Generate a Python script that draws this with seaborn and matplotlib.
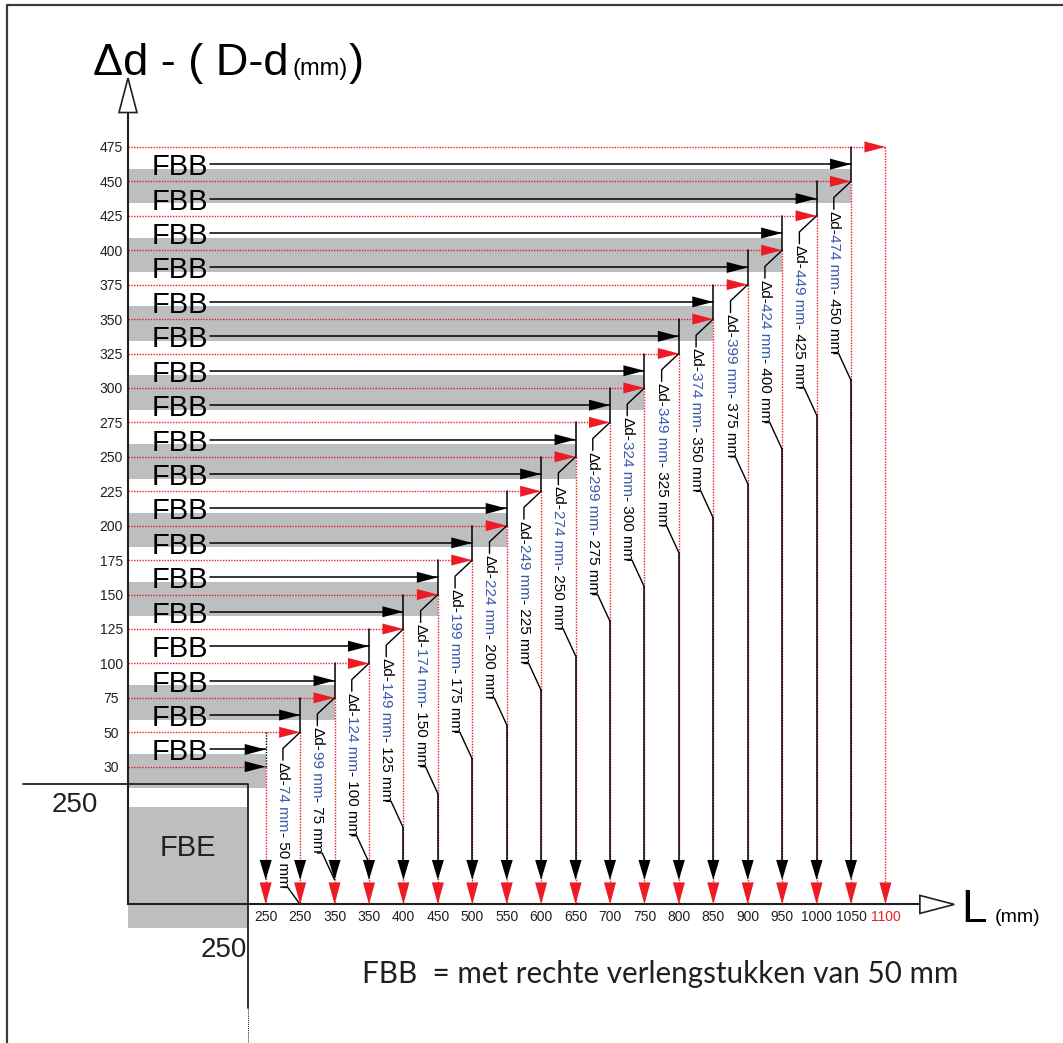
import numpy as np
import pandas as pd
import matplotlib
matplotlib.use("Agg")
import matplotlib.pyplot as plt
from matplotlib.patches import Polygon, Rectangle
import seaborn as sns

# ---------------- data ----------------
y_values = [30, 50, 75, 100, 125, 150, 175, 200, 225, 250, 275, 300, 325, 350,
            375, 400, 425, 450, 475]
x_values = [250, 250, 350, 350, 400, 450, 500, 550, 600, 650, 700, 750, 800,
            850, 900, 950, 1000, 1050, 1100]
band_levels = [30, 75, 150, 200, 250, 300, 350, 400, 450]
fbb_levels = [30, 50, 75, 100, 125, 150, 175, 200, 225, 250, 275, 300, 325,
              350, 375, 400, 425, 450]
dd_blue = [74, 99, 124, 149, 174, 199, 224, 249, 274, 299, 324, 349, 374, 399,
           424, 449, 474]
dd_black = [50, 75, 100, 125, 150, 175, 200, 225, 250, 275, 300, 325, 350, 375,
            400, 425, 450]
fbe_size = [250, 250]
title_main = "\u0394d - ( D-d"
x_unit = "(mm)"
note = "FBB  = met rechte verlengstukken van 50 mm"

# ---------------- style ----------------
RED = '#ed1c24'
BLUE = '#3d5aa8'
INK = '#231f20'
GRAY = '#bcbec0'
U = 34.43          # pixels per grid step
AX0 = -4           # axis position in grid units
DOT = (0, (1, 1))

sns.set_theme(style="white")
plt.rcParams['font.family'] = ['Liberation Sans', 'DejaVu Sans']

fig = plt.figure(figsize=(10.63, 10.43), dpi=100)
ax = fig.add_axes([0, 0, 1, 1])
XLIM = (-7.717, 23.157)
YLIM = (-8.025, 22.268)


def fix():
    ax.set_xlim(*XLIM)
    ax.set_ylim(*YLIM)


fix()
ny = len(y_values)
nx = len(x_values)
yi = {v: i for i, v in enumerate(y_values)}


def head(tx, ty, d, L, W, color, z=5):
    l, w = L / U, W / U / 2
    if d == 'r':
        pts = [(tx, ty), (tx - l, ty + w), (tx - l, ty - w)]
    elif d == 'd':
        pts = [(tx, ty), (tx - w, ty + l), (tx + w, ty + l)]
    else:  # up
        pts = [(tx, ty), (tx - w, ty - l), (tx + w, ty - l)]
    ax.add_patch(Polygon(pts, closed=True, fc=color, ec='none', zorder=z))


# ---------------- gray bands ----------------
for v in band_levels:
    i = yi[v]
    ax.barh(i - 0.13, width=i - AX0, left=AX0, height=1.0, color=GRAY,
            linewidth=0, zorder=1)
ax.add_patch(Rectangle((AX0, -4.68), 3.5, 3.51, fc=GRAY, ec='none', zorder=1))

# ---------------- red dotted guides ----------------
red_h = pd.DataFrame([(x, i, i) for i in range(ny) for x in (AX0, i)],
                     columns=['x', 'y', 'seg'])
sns.lineplot(data=red_h, x='x', y='y', units='seg', estimator=None, sort=False,
             color=RED, linewidth=1.0, linestyle=DOT, ax=ax, legend=False, zorder=2)
red_v = pd.DataFrame([(j, y, j) for j in range(nx) for y in (j, AX0)],
                     columns=['x', 'y', 'seg'])
sns.lineplot(data=red_v, x='x', y='y', units='seg', estimator=None, sort=False,
             color=RED, linewidth=1.0, linestyle=DOT, ax=ax, legend=False, zorder=2)

# ---------------- FBB arrows ----------------
FBB_X0 = -1.62
fbb_df = pd.DataFrame([(x, yi[v] + 0.5, k) for k, v in enumerate(fbb_levels)
                       for x in (FBB_X0, k)], columns=['x', 'y', 'seg'])
sns.lineplot(data=fbb_df, x='x', y='y', units='seg', estimator=None, sort=False,
             color='black', linewidth=1.1, ax=ax, legend=False, zorder=3)
for k, v in enumerate(fbb_levels):
    y = yi[v] + 0.5
    ax.text(-3.30, y, "FBB", fontsize=21, color='black', ha='left',
            va='center_baseline', zorder=6)
    head(k, y, 'r', 21, 11, 'black')

# red arrow heads of the level lines
for i in range(ny):
    head(i, i, 'r', 21, 11, 'black' if i == 0 else RED)

# bottom arrow heads
for j in range(nx):
    head(j, AX0, 'd', 22, 12, RED)
    if j < nx - 1:
        head(j, -3.29, 'd', 20, 12, 'black')

# black vertical connectors
ax.plot([0, 0], [1, 0], color='black', lw=1.0, ls=DOT, zorder=3)
fix()
fig.canvas.draw()
renderer = fig.canvas.get_renderer()
ARROW_BASE = -3.29 + 20 / U

for k, v in enumerate(dd_black):
    j = yi[v]
    ax.plot([j, j], [j + 1, j], color='black', lw=1.1, zorder=3)
    xt = j - 0.5
    ax.plot([j, xt, xt], [j, j - 0.47, j - 0.81], color='black', lw=1.0, zorder=3)
    y = j - 0.85
    pieces = [("\u0394d-", 'black'), (f"{dd_blue[k]} mm", BLUE),
              (f"- {dd_black[k]} mm", 'black')]
    for s, c in pieces:
        t = ax.text(xt, y, s, rotation=-90, rotation_mode='anchor', ha='left',
                    va='center', fontsize=11, color=c, zorder=6)
        bb = t.get_window_extent(renderer)
        y -= bb.height / U
    y_end = y
    y_low = max(y_end - 0.78, AX0)
    ax.plot([xt, j - 0.36, j], [y_end, y_end, y_low], color='black', lw=1.0,
            zorder=3)
    if y_low > ARROW_BASE:
        ax.plot([j, j], [y_low, ARROW_BASE], color='black', lw=1.1, zorder=3)

# ---------------- axes ----------------
for s in ['top', 'right']:
    ax.spines[s].set_visible(False)
ax.spines['left'].set_position(('data', AX0))
ax.spines['left'].set_bounds(AX0, 19)
ax.spines['bottom'].set_position(('data', AX0))
ax.spines['bottom'].set_bounds(AX0, 19)
for s in ['left', 'bottom']:
    ax.spines[s].set_color(INK)
    ax.spines[s].set_linewidth(1.5)
    ax.spines[s].set_zorder(4)
ax.set_xticks(range(nx))
ax.set_xticklabels([str(v) for v in x_values])
ax.set_yticks(range(ny))
ax.set_yticklabels([str(v) for v in y_values])
ax.tick_params(axis='both', length=0, labelsize=10, labelcolor=INK)
ax.tick_params(axis='x', pad=4)
ax.tick_params(axis='y', pad=12)
for lab in ax.get_yticklabels():
    lab.set_ha('center')
ax.get_xticklabels()[-1].set_color(RED)
ax.set_xlabel('')
ax.set_ylabel('')
ax.grid(False)

# hollow axis arrow heads
ax.add_patch(Polygon([(AX0, 20.0), (AX0 - 9 / U, 19.0), (AX0 + 9 / U, 19.0)],
                     closed=True, fc='white', ec=INK, lw=1.2, zorder=5))
ax.add_patch(Polygon([(20.0, AX0), (19.0, AX0 + 9 / U), (19.0, AX0 - 9 / U)],
                     closed=True, fc='white', ec=INK, lw=1.2, zorder=5))

# FBE corner frame
ax.plot([-7.06, -0.5, -0.5], [-0.5, -0.5, -7.0], color=INK, lw=1.3, zorder=4)
ax.plot([-0.5, -0.5], [-7.0, -8.1], color=INK, lw=0.7, ls=DOT, zorder=4)
ax.text(-5.54, -1.31, str(fbe_size[0]), fontsize=20, color=INK, ha='center',
        va='baseline')
ax.text(-0.54, -5.52, str(fbe_size[1]), fontsize=20, color=INK, ha='right',
        va='baseline')
ax.text(-2.26, -2.59, "FBE", fontsize=21, color=INK, ha='center', va='baseline')

# title
fix()
t1 = ax.text(-5.02, 20.09, title_main, fontsize=32.5, color='black', ha='left',
             va='baseline')
bb = t1.get_window_extent(renderer)
xn = ax.transData.inverted().transform((bb.x1, 0))[0] + 0.12
t2 = ax.text(xn, 20.09, x_unit, fontsize=17, color='black', ha='left',
             va='baseline')
bb = t2.get_window_extent(renderer)
xn = ax.transData.inverted().transform((bb.x1, 0))[0] + 0.02
ax.text(xn, 20.09, ")", fontsize=32.5, color='black', ha='left', va='baseline')

# x axis label
ax.text(20.19, -4.52, "L", fontsize=33, color='black', ha='left', va='baseline')
ax.text(21.18, -4.50, x_unit, fontsize=14, color='black', ha='left',
        va='baseline')

# note
ax.text(2.80, -6.28, note, fontsize=21.3, color=INK, ha='left', va='baseline',
        family=['Lato', 'DejaVu Sans'])

# outer frame
ax.plot([7 / 1063, 7 / 1063, 1.0], [0.0, 1 - 5 / 1043, 1 - 5 / 1043],
        transform=ax.transAxes, color='#3a3a3a', lw=1.6, clip_on=False, zorder=7)

fix()
fig.savefig("out.png", dpi=100, facecolor='white')
